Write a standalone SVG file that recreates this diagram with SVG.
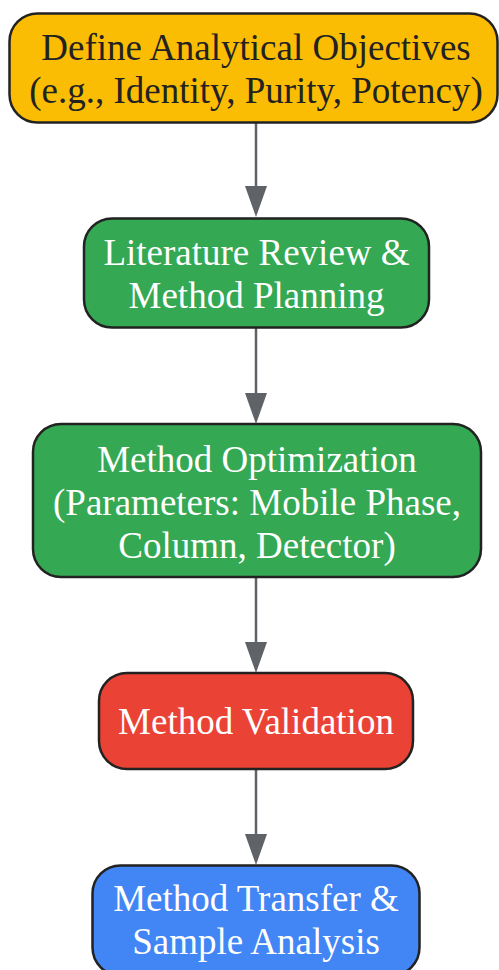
<svg xmlns="http://www.w3.org/2000/svg" width="499" height="970" viewBox="0 0 499 970">
<style>
.node rect{stroke:#222;stroke-width:2.5}
.node text{font-family:"Liberation Serif","Times New Roman",serif;font-size:37px;text-anchor:middle;fill:#fff}
.node.dark text{fill:#222}
.edge{stroke:#5f6368;stroke-width:2.5;fill:none;marker-end:url(#arr)}
</style>
<defs>
<marker id="arr" markerUnits="userSpaceOnUse" markerWidth="31" markerHeight="22" viewBox="0 0 31 22" refX="21" refY="11" orient="auto">
<path d="M0,0 L31,11 L0,22 Z" fill="#5f6368"/>
</marker>
</defs>
<g id="connectors">
<line class="edge" x1="256" y1="123" x2="256" y2="207"/>
<line class="edge" x1="256" y1="328" x2="256" y2="414"/>
<line class="edge" x1="256" y1="577" x2="256" y2="663"/>
<line class="edge" x1="256" y1="769" x2="256" y2="855"/>
</g>
<g id="n1" class="node dark">
<rect x="9.5" y="13.5" width="488" height="109" rx="28" fill="#fbbc04"/>
<text x="256" y="60">Define Analytical Objectives</text>
<text x="256" y="103">(e.g., Identity, Purity, Potency)</text>
</g>
<g id="n2" class="node">
<rect x="84" y="218.5" width="345" height="109" rx="28" fill="#34a853"/>
<text x="256.5" y="265">Literature Review &amp;</text>
<text x="256.5" y="308">Method Planning</text>
</g>
<g id="n3" class="node">
<rect x="33" y="424" width="448" height="153" rx="28" fill="#34a853"/>
<text x="257" y="472">Method Optimization</text>
<text x="257" y="515">(Parameters: Mobile Phase,</text>
<text x="257" y="558">Column, Detector)</text>
</g>
<g id="n4" class="node">
<rect x="99" y="673" width="314" height="96" rx="28" fill="#ea4335"/>
<text x="256" y="734">Method Validation</text>
</g>
<g id="n5" class="node">
<rect x="92.5" y="865.5" width="327" height="110" rx="28" fill="#4285f4"/>
<text x="256" y="911">Method Transfer &amp;</text>
<text x="256" y="954">Sample Analysis</text>
</g>
</svg>
